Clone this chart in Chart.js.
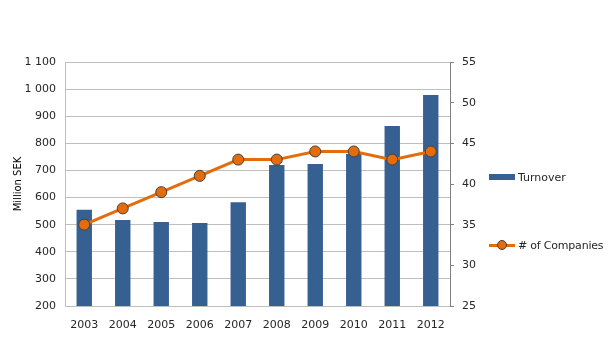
<!DOCTYPE html>
<html>
<head>
<meta charset="utf-8">
<script src="https://cdn.jsdelivr.net/npm/chart.js@4/dist/chart.umd.min.js"></script>
<style>
html,body{margin:0;padding:0;background:#fff;}
#wrap{position:relative;width:609px;height:355px;}
canvas{position:absolute;left:0;top:0;}
.lg{position:absolute;font:11px "DejaVu Sans";color:#262626;white-space:nowrap;}
</style>
</head>
<body>
<div id="wrap">
<canvas id="c" width="609" height="355"></canvas>
<div class="lg" style="left:489px;top:170px;"><span style="display:inline-block;width:26px;height:6px;background:#376092;vertical-align:middle;margin-right:3px;"></span><span style="vertical-align:middle;">Turnover</span></div>
<div class="lg" style="left:489px;top:238px;"><span style="position:relative;display:inline-block;width:26px;height:14px;vertical-align:middle;margin-right:3px;"><span style="position:absolute;left:0;top:6px;width:26px;height:3px;background:#E46C0A;"></span><span style="position:absolute;left:8px;top:2px;width:8px;height:8px;border-radius:50%;background:#E46C0A;border:1px solid #404040;"></span></span><span style="vertical-align:middle;letter-spacing:-0.2px;"># of Companies</span></div>
</div>
<script>
const years = ["2003","2004","2005","2006","2007","2008","2009","2010","2011","2012"];
const turnover = [555, 517, 510, 506, 583, 720, 724, 761, 864, 978];
const companies = [35, 37, 39, 41, 43, 43, 44, 44, 43, 44];
const seriesNames = ["Turnover", "# of Companies"];
const axisTitle = "Million SEK";

Chart.defaults.font.family = "DejaVu Sans";
Chart.defaults.font.size = 11;
Chart.defaults.color = "#262626";

new Chart(document.getElementById('c'), {
  data: {
    labels: years,
    datasets: [
      {type:'line', label: seriesNames[1], data: companies, yAxisID:'y2', order:1,
       borderColor:'#E46C0A', borderWidth:3, backgroundColor:'#E46C0A',
       pointRadius:5.5, pointBorderColor:'#404040', pointBorderWidth:1, pointBackgroundColor:'#E46C0A', tension:0},
      {type:'bar', label: seriesNames[0], data: turnover, yAxisID:'y', order:2,
       backgroundColor:'#376092', categoryPercentage:1, barPercentage:0.4}
    ]
  },
  options: {
    responsive:false, animation:false,
    layout:{padding:{top:62, right:119, left:0, bottom:0}},
    plugins:{legend:{display:false}, tooltip:{enabled:false}},
    scales:{
      x:{
        grid:{display:false, drawTicks:false},
        border:{color:'#bfbfbf'},
        ticks:{padding:13, color:'#262626'},
        afterFit(s){ s.height = 49; }
      },
      y:{
        position:'left', min:200, max:1100,
        ticks:{stepSize:100, padding:9, color:'#262626',
          callback:v=>String(v).replace(/\B(?=(\d{3})+(?!\d))/g,' ')},
        grid:{color:'#bfbfbf', drawTicks:false},
        border:{color:'#bfbfbf'},
        title:{display:true, text:axisTitle, font:{size:10}, color:'#000', padding:{top:12,bottom:0}},
        afterFit(s){ s.width = 65; }
      },
      y2:{
        position:'right', min:25, max:55,
        ticks:{stepSize:5, padding:8, color:'#262626'},
        grid:{drawOnChartArea:false, color:'#808080', tickLength:4},
        border:{color:'#808080'},
        afterFit(s){ s.width = 40; }
      }
    }
  }
});
</script>
</body>
</html>
